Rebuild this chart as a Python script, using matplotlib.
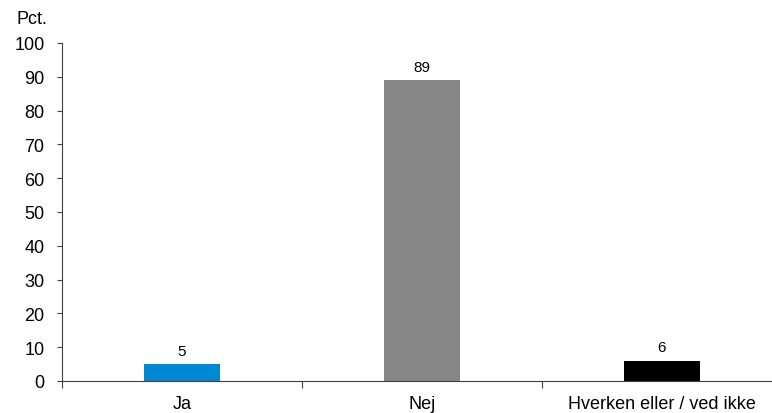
import matplotlib
matplotlib.use("Agg")
import matplotlib.pyplot as plt
from matplotlib.ticker import FixedLocator

plt.rcParams["font.family"] = ["Liberation Sans", "DejaVu Sans"]

categories = ["Ja", "Nej", "Hverken eller / ved ikke"]
values = [5, 89, 6]
colors = ["#0088d4", "#878787", "#000000"]
y_ticks = [0, 10, 20, 30, 40, 50, 60, 70, 80, 90, 100]

W, H = 772, 414
fig = plt.figure(figsize=(W / 100, H / 100), dpi=100)
ax = fig.add_axes([62 / W, 32 / H, 720 / W, 338 / H])

x = list(range(len(categories)))
bars = ax.bar(x, values, width=0.32, color=colors, zorder=2)

for xi, v in zip(x, values):
    ax.annotate(f"{v}", (xi, v), xytext=(0, 4.5), textcoords="offset points",
                ha="center", va="bottom", fontsize=11, color="#000000")

ax.set_xlim(-0.5, len(categories) - 0.5)
ax.set_ylim(0, 100)
ax.set_yticks(y_ticks)
ax.tick_params(axis="y", direction="out", length=3.6, width=0.8, color="#404040",
               labelsize=13, pad=9)

ax.set_xticks(x)
ax.set_xticklabels(categories)
ax.tick_params(axis="x", which="major", length=0, labelsize=13, pad=10)
ax.xaxis.set_minor_locator(FixedLocator([-0.5, 0.5, 1.5]))
ax.tick_params(axis="x", which="minor", direction="out", length=5, width=0.8,
               color="#404040")

for side in ["top", "right"]:
    ax.spines[side].set_visible(False)
for side in ["left", "bottom"]:
    ax.spines[side].set_color("#404040")
    ax.spines[side].set_linewidth(0.8)

fig.text(16 / W, 1 - 20 / H, "Pct.", fontsize=13, ha="left", va="center")

fig.savefig("out.png", dpi=100)
